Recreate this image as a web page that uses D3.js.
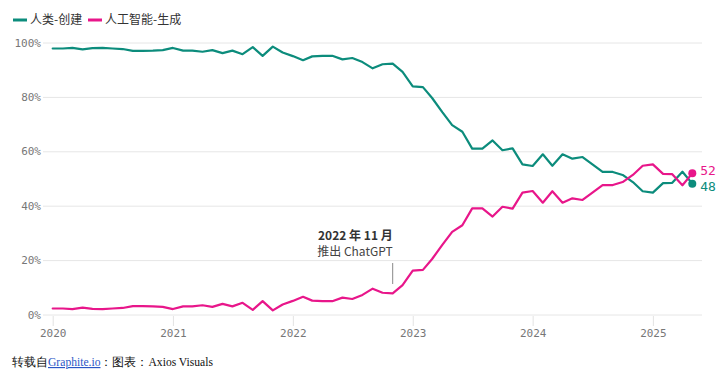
<!DOCTYPE html>
<html>
<head>
<meta charset="utf-8">
<script src="https://cdn.jsdelivr.net/npm/d3@7"></script>
<style>
  html, body { margin: 0; padding: 0; background: #fff; }
  svg { display: block; }
</style>
</head>
<body>
<svg id="chart" width="718" height="379"></svg>
<script>
// ---- Data ----
const months = [
  "2020-01","2020-02","2020-03","2020-04","2020-05","2020-06","2020-07","2020-08","2020-09","2020-10","2020-11","2020-12",
  "2021-01","2021-02","2021-03","2021-04","2021-05","2021-06","2021-07","2021-08","2021-09","2021-10","2021-11","2021-12",
  "2022-01","2022-02","2022-03","2022-04","2022-05","2022-06","2022-07","2022-08","2022-09","2022-10","2022-11","2022-12",
  "2023-01","2023-02","2023-03","2023-04","2023-05","2023-06","2023-07","2023-08","2023-09","2023-10","2023-11","2023-12",
  "2024-01","2024-02","2024-03","2024-04","2024-05","2024-06","2024-07","2024-08","2024-09","2024-10","2024-11","2024-12",
  "2025-01","2025-02","2025-03","2025-04","2025-05"
];
const humanValues = [
  97.8, 97.8, 98.0, 97.5, 97.9, 98.0, 97.8, 97.6, 96.9, 96.9, 97.0, 97.2,
  98.0, 97.0, 97.0, 96.6, 97.2, 96.1, 97.0, 95.7, 98.3, 95.1, 98.5, 96.3,
  95.0, 93.5, 94.9, 95.1, 95.1, 93.8, 94.3, 92.8, 90.5, 92.0, 92.2, 89.2,
  83.9, 83.6, 79.6, 74.4, 69.6, 67.2, 61.0, 61.0, 64.0, 60.4, 61.1, 55.2,
  54.6, 58.9, 54.7, 58.9, 57.3, 57.9, 55.2, 52.4, 52.4, 51.3, 48.7, 45.3,
  44.8, 48.3, 48.4, 52.5, 48.1
];
const aiValues = [
  2.2, 2.2, 2.0, 2.5, 2.1, 2.0, 2.2, 2.4, 3.1, 3.1, 3.0, 2.8,
  2.0, 3.0, 3.0, 3.4, 2.8, 3.9, 3.0, 4.3, 1.7, 4.9, 1.5, 3.7,
  5.0, 6.5, 5.1, 4.9, 4.9, 6.2, 5.7, 7.2, 9.5, 8.0, 7.8, 10.8,
  16.1, 16.4, 20.4, 25.6, 30.4, 32.8, 39.0, 39.0, 36.0, 39.6, 38.9, 44.8,
  45.4, 41.1, 45.3, 41.1, 42.7, 42.1, 44.8, 47.6, 47.6, 48.7, 51.3, 54.7,
  55.2, 51.7, 51.6, 47.5, 51.9
];
const seriesNames = ["人类-创建", "人工智能-生成"];
const seriesColors = ["#0c8c7c", "#e8168a"];
const yTicks = [0, 20, 40, 60, 80, 100];
const xTickYears = ["2020", "2021", "2022", "2023", "2024", "2025"];
const annotationMonth = "2022-11";
const annotationLines = ["2022 年 11 月", "推出 ChatGPT"];
const endLabels = ["48", "52"];

// ---- Setup ----
const svg = d3.select("#chart");
const parse = d3.timeParse("%Y-%m");
const dates = months.map(parse);

const x = d3.scaleTime()
  .domain([dates[0], dates[dates.length - 1]])
  .range([52.7, 692.3]);
const y = d3.scaleLinear().domain([0, 100]).range([314.5, 42.5]);

const gridLeft = 43, gridRight = 702;
const monoFont = "'DejaVu Sans Mono', monospace";
const sansFont = "'Noto Sans CJK SC', 'Noto Sans', sans-serif";

// Y axis with gridlines
const yAxis = d3.axisLeft(y)
  .tickValues(yTicks)
  .tickSize(-(gridRight - gridLeft))
  .tickPadding(2)
  .tickFormat(d => d + "%");
const gy = svg.append("g")
  .attr("transform", `translate(${gridLeft},0)`)
  .call(yAxis);
gy.select(".domain").remove();
gy.selectAll(".tick line").attr("stroke", "#e6e6e6").attr("stroke-width", 1);
gy.selectAll(".tick text")
  .attr("fill", "#777")
  .style("font-family", monoFont)
  .style("font-size", "11px");

// X axis
const xAxis = d3.axisBottom(x)
  .tickValues(xTickYears.map(s => d3.timeParse("%Y")(s)))
  .tickSize(10)
  .tickPadding(3)
  .tickFormat(d3.timeFormat("%Y"));
const gx = svg.append("g")
  .attr("transform", `translate(0,316)`)
  .call(xAxis);
gx.select(".domain").remove();
gx.selectAll(".tick line").attr("stroke", "#e3e3e3");
gx.selectAll(".tick text")
  .attr("fill", "#777")
  .style("font-family", monoFont)
  .style("font-size", "11px");

// Lines
const line = d3.line()
  .x((d, i) => x(dates[i]))
  .y(d => y(d));

[humanValues, aiValues].forEach((vals, k) => {
  svg.append("path")
    .datum(vals)
    .attr("fill", "none")
    .attr("stroke", seriesColors[k])
    .attr("stroke-width", 2.2)
    .attr("stroke-linejoin", "round")
    .attr("stroke-linecap", "round")
    .attr("d", line);
});

// End dots & labels
const lastI = dates.length - 1;
const endOffsets = [3, -3];
[humanValues, aiValues].forEach((vals, k) => {
  svg.append("circle")
    .attr("cx", x(dates[lastI]))
    .attr("cy", y(vals[lastI]))
    .attr("r", 4)
    .attr("fill", seriesColors[k]);
  svg.append("text")
    .attr("x", x(dates[lastI]) + 8)
    .attr("y", y(vals[lastI]) + endOffsets[k])
    .attr("dy", "0.35em")
    .attr("fill", seriesColors[k])
    .style("font-family", monoFont)
    .style("font-size", "13px")
    .text(endLabels[k]);
});

// Annotation
const ax = x(parse(annotationMonth));
svg.append("line")
  .attr("x1", ax).attr("x2", ax)
  .attr("y1", 263).attr("y2", 284)
  .attr("stroke", "#888").attr("stroke-width", 1);
svg.append("text")
  .attr("x", ax).attr("y", 239.5)
  .attr("text-anchor", "end")
  .attr("fill", "#333")
  .style("font-family", sansFont)
  .style("font-size", "12px")
  .style("font-weight", "bold")
  .text(annotationLines[0]);
svg.append("text")
  .attr("x", ax).attr("y", 255.5)
  .attr("text-anchor", "end")
  .attr("fill", "#444")
  .style("font-family", sansFont)
  .style("font-size", "12px")
  .text(annotationLines[1]);

// Legend
const legendX = [13, 88];
seriesNames.forEach((name, k) => {
  svg.append("line")
    .attr("x1", legendX[k]).attr("x2", legendX[k] + 14)
    .attr("y1", 20).attr("y2", 20)
    .attr("stroke", seriesColors[k]).attr("stroke-width", 3);
  svg.append("text")
    .attr("x", legendX[k] + 17).attr("y", 20)
    .attr("dy", "0.35em")
    .attr("fill", "#333")
    .style("font-family", sansFont)
    .style("font-size", "12px")
    .text(name);
});

// Footer
const footer = svg.append("text")
  .attr("x", 12).attr("y", 366)
  .attr("fill", "#111")
  .style("font-family", "'Liberation Serif', 'Times New Roman', serif")
  .style("font-size", "11.6px");
footer.append("tspan").text("转载自");
footer.append("tspan").text("Graphite.io")
  .attr("fill", "#2a56c6")
  .style("text-decoration", "underline");
footer.append("tspan").text("：图表：Axios Visuals");
</script>
</body>
</html>
